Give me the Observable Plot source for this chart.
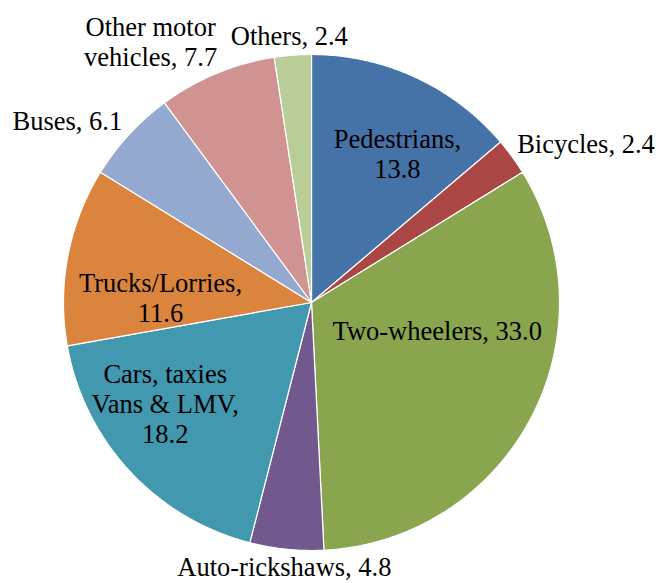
<!DOCTYPE html>
<html>
<head>
<meta charset="utf-8">
<script src="https://cdn.jsdelivr.net/npm/d3@7"></script>
<script src="https://cdn.jsdelivr.net/npm/@observablehq/plot@0.6"></script>
<style>
  html, body { margin: 0; padding: 0; background: white; }
  svg text { font-family: "Liberation Serif", "Times New Roman", serif !important; }
</style>
</head>
<body>
<div id="chart"></div>
<script>
// ---- data ----
const categories = ["Pedestrians", "Bicycles", "Two-wheelers", "Auto-rickshaws",
  "Cars, taxies Vans & LMV", "Trucks/Lorries", "Buses", "Other motor vehicles", "Others"];
const values = [13.8, 2.4, 33.0, 4.8, 18.2, 11.6, 6.1, 7.7, 2.4];
const labelNames = ["Pedestrians,\n", "Bicycles, ", "Two-wheelers, ", "Auto-rickshaws, ",
  "Cars, taxies\nVans & LMV,\n", "Trucks/Lorries,\n", "Buses, ", "Other motor\nvehicles, ", "Others, "];
const colors = ["#4572A7", "#AA4643", "#89A54E", "#71588F", "#4198AF",
  "#DB843D", "#93A9CF", "#D19392", "#B9CD96"];

// ---- layout (label radius as fraction of pie radius, pixel nudges, anchor) ----
const R = 248, CX = 311, CY = 302, W = 656, H = 583;
const labelLayout = [
  {k: 0.70, dx: 13, dy: 8, anchor: "middle"},
  {k: 1.05, dx: -5, dy: -6, anchor: "start"},
  {k: 0.55, dx: 5, dy: -36, anchor: "middle"},
  {k: 1.09, dx: 0, dy: -5, anchor: "middle"},
  {k: 0.70, dx: -19, dy: -17, anchor: "middle"},
  {k: 0.62, dx: 0, dy: 24, anchor: "middle"},
  {k: 1.06, dx: 4, dy: -4, anchor: "end"},
  {k: 1.20, dx: -47, dy: 14, anchor: "middle"},
  {k: 1.08, dx: -2, dy: 0, anchor: "middle"}
];

const table = categories.map((name, i) => ({name, value: values[i], color: colors[i], i}));
const arcs = d3.pie().sort(null).value(d => d.value)(table);

// slice outlines (unit circle, angle 0 at top, clockwise)
const slicePts = [];
for (const a of arcs) {
  slicePts.push({name: a.data.name, color: a.data.color, x: 0, y: 0});
  const n = Math.max(2, Math.ceil((a.endAngle - a.startAngle) / 0.01));
  for (let j = 0; j <= n; j++) {
    const t = a.startAngle + (a.endAngle - a.startAngle) * j / n;
    slicePts.push({name: a.data.name, color: a.data.color, x: Math.sin(t), y: Math.cos(t)});
  }
}

const labelData = arcs.map(a => {
  const i = a.data.i, L = labelLayout[i];
  const m = (a.startAngle + a.endAngle) / 2;
  return {
    text: labelNames[i] + a.data.value.toFixed(1),
    x: L.k * Math.sin(m) + L.dx / R,
    y: L.k * Math.cos(m) - L.dy / R,
    anchor: L.anchor
  };
});

const FONT = "'Liberation Serif', 'Times New Roman', serif";
const textStyle = {x: "x", y: "y", text: "text", fontSize: 26.5, fontFamily: FONT,
  lineHeight: 1.13, fill: "black", lineAnchor: "middle"};

const chart = Plot.plot({
  width: W, height: H,
  margin: 0,
  x: {domain: [-CX / R, (W - CX) / R], axis: null},
  y: {domain: [-(H - CY) / R, CY / R], axis: null},
  color: {type: "identity"},
  style: {background: "white", overflow: "visible", fontFamily: FONT},
  marks: [
    Plot.line(slicePts, {x: "x", y: "y", z: "name", fill: "color", stroke: "white",
      strokeWidth: 1.2, curve: "linear-closed"}),
    Plot.text(labelData.filter(d => d.anchor === "middle"), {...textStyle, textAnchor: "middle"}),
    Plot.text(labelData.filter(d => d.anchor === "start"), {...textStyle, textAnchor: "start"}),
    Plot.text(labelData.filter(d => d.anchor === "end"), {...textStyle, textAnchor: "end"})
  ]
});
document.getElementById("chart").appendChild(chart);
</script>
</body>
</html>
